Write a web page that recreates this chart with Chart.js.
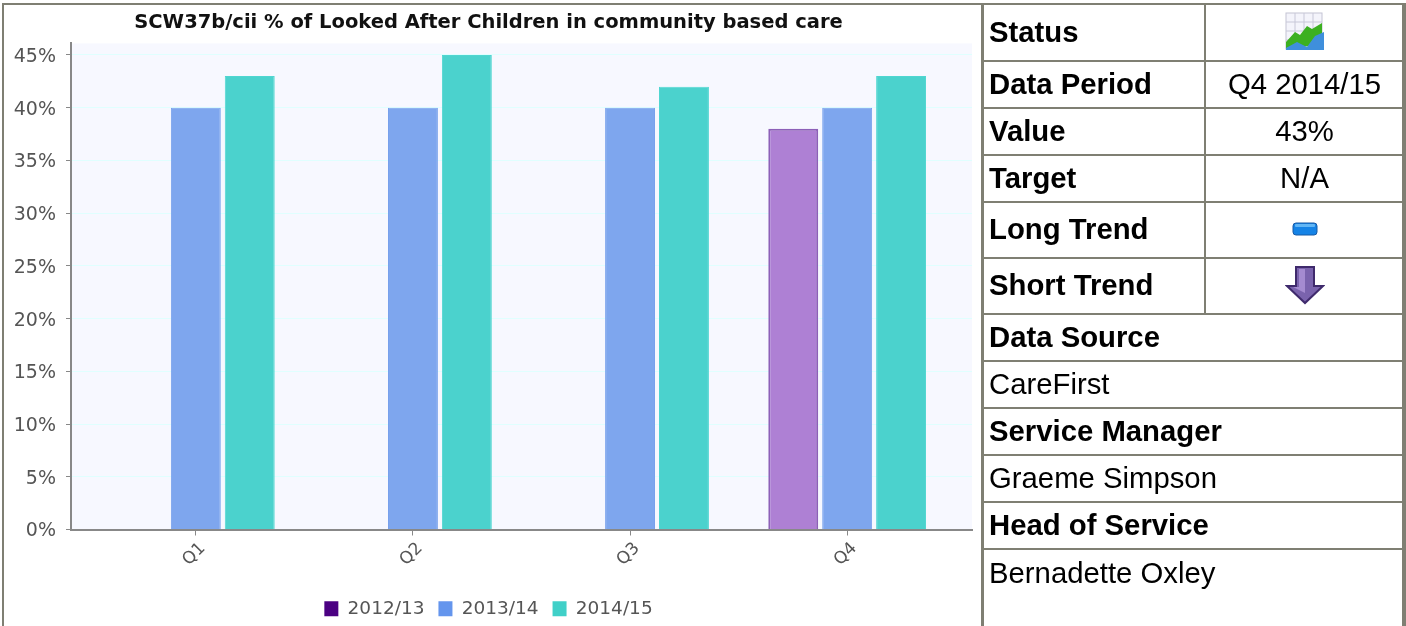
<!DOCTYPE html>
<html>
<head>
<meta charset="utf-8">
<title>SCW37b/cii</title>
<script src="https://cdn.jsdelivr.net/npm/chart.js@4"></script>
<style>
    html, body { margin: 0; padding: 0; background: #fff; overflow: hidden; }
    #page { position: relative; width: 1406px; height: 626px; overflow: hidden; }
    #frame { position: absolute; left: 2px; top: 3px; width: 1402px; height: 640px; border: 2px solid #7f7f73; box-sizing: border-box; }
    #chartBox { position: absolute; left: 5px; top: 5px; width: 976px; height: 623px; }
    #info { position: absolute; left: 981px; top: 3px; width: 422px; border-collapse: collapse; table-layout: fixed;
        font-family: "Liberation Sans", Arial, sans-serif; font-size: 29.3px; color: #000; }
    #info td { border: 2px solid #7f7f73; padding: 0 0 2px 5px; box-sizing: border-box; }
    #info td:first-child { border-left-width: 3px; }
    #info td.c { text-align: center; padding: 0 0 2px 0; }
    #info td.h { font-weight: bold; }
    #info svg { display: block; margin: 0 auto; }
</style>
</head>
<body>
<div id="page">
    <div id="frame"></div>
    <div id="chartBox"><canvas id="barChart" width="977" height="623"></canvas></div>
    <table id="info">
        <colgroup><col style="width:222px"><col style="width:200px"></colgroup>
        <tr style="height:57px"><td class="h">Status</td><td class="c">
            <svg width="40" height="40" viewBox="0 0 40 40">
                <rect x="1" y="1" width="36" height="36" fill="#f4f4fb" stroke="#c4c4d4"/>
                <path d="M10 1V37M19 1V37M28 1V37M1 10H37M1 19H37M1 28H37" stroke="#c8c8d8" fill="none"/>
                <path d="M1 30L10 20L15 23L22 14L27 17L37 11V27L27 34L1 36Z" fill="#3cb021"/>
                <path d="M1 36L12 30L22 35L30 24L39 20V38H1Z" fill="#3f8fdc"/>
            </svg></td></tr>
        <tr style="height:47px"><td class="h">Data Period</td><td class="c">Q4 2014/15</td></tr>
        <tr style="height:47px"><td class="h">Value</td><td class="c">43%</td></tr>
        <tr style="height:47px"><td class="h">Target</td><td class="c">N/A</td></tr>
        <tr style="height:56px"><td class="h">Long Trend</td><td class="c">
            <svg width="26" height="14" viewBox="0 0 26 14">
                <rect x="1" y="1" width="24" height="12" rx="3" fill="#1583e6" stroke="#175aa6"/>
                <rect x="3" y="2" width="20" height="3" rx="1" fill="#62b6f5"/>
            </svg></td></tr>
        <tr style="height:56px"><td class="h">Short Trend</td><td class="c">
            <svg width="40" height="40" viewBox="0 0 40 40">
                <path d="M11 2H29V21H38L20 38L2 21H11Z" fill="#7a63ad" stroke="#3f2a6c" stroke-width="2"/>
                <path d="M14 4H20V28L8 22H14Z" fill="#a48bd0"/>
            </svg></td></tr>
        <tr style="height:47px"><td class="h" colspan="2">Data Source</td></tr>
        <tr style="height:47px"><td colspan="2">CareFirst</td></tr>
        <tr style="height:47px"><td class="h" colspan="2">Service Manager</td></tr>
        <tr style="height:47px"><td colspan="2">Graeme Simpson</td></tr>
        <tr style="height:47px"><td class="h" colspan="2">Head of Service</td></tr>
        <tr style="height:80px"><td colspan="2" style="vertical-align:top;padding-top:6px">Bernadette Oxley</td></tr>
    </table>
</div>
<script>
// Data
const categories = ['Q1', 'Q2', 'Q3', 'Q4'];
const seriesNames = ['2012/13', '2013/14', '2014/15'];
const values1213 = [null, null, null, 38];
const values1314 = [40, 40, 40, 40];
const values1415 = [43, 45, 42, 43];
const yTicks = [0, 5, 10, 15, 20, 25, 30, 35, 40, 45];

const legendColors = ['#4b0082', '#6495ed', '#40d0c8'];
const labelFont = '"DejaVu Sans", Verdana, sans-serif';

function points(values) {
    return values.map((v, i) => ({ x: i + 1, y: v }));
}

// plot background sits behind the bars and gridlines
const plotBackground = {
    id: 'plotBackground',
    beforeDraw(chart) {
        const a = chart.chartArea;
        chart.ctx.fillStyle = '#f7f8ff';
        chart.ctx.fillRect(a.left, a.top, a.width, a.height);
    }
};

const barCtx = document.getElementById('barChart').getContext('2d');
new Chart(barCtx, {
    type: 'bar',
    data: {
        datasets: [
            { label: seriesNames[0], data: points(values1213), backgroundColor: '#ae80d4', borderColor: '#8d60b8', borderWidth: 2 },
            { label: seriesNames[1], data: points(values1314), backgroundColor: '#7ea6ee', borderColor: '#78a1ec', borderWidth: 1 },
            { label: seriesNames[2], data: points(values1415), backgroundColor: '#4bd2cd', borderColor: '#4fd6d1', borderWidth: 1 }
        ]
    },
    plugins: [plotBackground],
    options: {
        responsive: false,
        animation: false,
        categoryPercentage: 0.745,
        barPercentage: 0.926,
        layout: { padding: { left: 0, right: 10, top: 0, bottom: 0 } },
        plugins: {
            title: {
                display: true,
                text: 'SCW37b/cii % of Looked After Children in community based care',
                color: '#111',
                font: { family: labelFont, size: 19.5, weight: 'bold' },
                padding: { top: 6, bottom: 9 }
            },
            legend: {
                position: 'bottom',
                labels: {
                    color: '#555',
                    font: { family: labelFont, size: 18.5 },
                    boxWidth: 14,
                    boxHeight: 15,
                    padding: 14,
                    generateLabels: () => seriesNames.map((name, i) => ({
                        text: name, fillStyle: legendColors[i], strokeStyle: legendColors[i],
                        lineWidth: 0, datasetIndex: i, fontColor: '#555'
                    }))
                }
            }
        },
        scales: {
            x: {
                type: 'linear',
                offset: false,
                min: 0.425,
                max: 4.575,
                grid: { offset: false, drawOnChartArea: false, tickColor: '#888', tickLength: 6 },
                border: { color: '#888', width: 2 },
                afterFit(scale) { scale.height = 56; },
                ticks: {
                    stepSize: 1,
                    includeBounds: false,
                    autoSkip: false,
                    minRotation: 45,
                    maxRotation: 45,
                    labelOffset: 7,
                    color: '#555',
                    font: { family: labelFont, size: 17 },
                    callback: v => categories[v - 1]
                }
            },
            y: {
                min: 0,
                max: 46.1,
                grid: { color: '#e0ffff', tickColor: '#888', tickLength: 5 },
                border: { color: '#888', width: 2 },
                afterFit(scale) { scale.width = 66; },
                afterBuildTicks(scale) { scale.ticks = yTicks.map(v => ({ value: v })); },
                ticks: {
                    stepSize: 5,
                    includeBounds: false,
                    padding: 10,
                    labelOffset: 2,
                    color: '#555',
                    font: { family: labelFont, size: 19 },
                    callback: v => v + '%'
                }
            }
        }
    }
});
</script>
</body>
</html>
